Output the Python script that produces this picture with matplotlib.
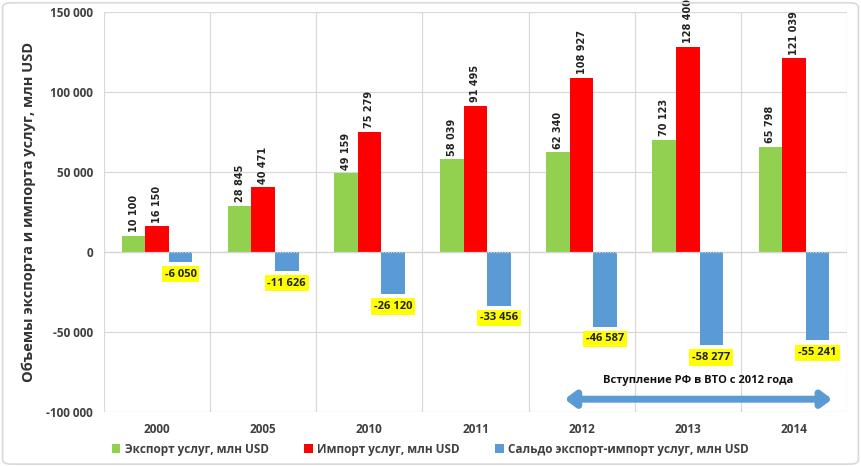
import matplotlib
matplotlib.use("Agg")
import matplotlib.pyplot as plt
from matplotlib.patches import FancyBboxPatch
import numpy as np

years = ["2000", "2005", "2010", "2011", "2012", "2013", "2014"]
export_vals = [10100, 28845, 49159, 58039, 62340, 70123, 65798]
import_vals = [16150, 40471, 75279, 91495, 108927, 128400, 121039]
saldo_vals = [-6050, -11626, -26120, -33456, -46587, -58277, -55241]
yticks = [-100000, -50000, 0, 50000, 100000, 150000]

def fmt(v):
    s = f"{abs(v):,}".replace(",", " ")
    return ("-" if v < 0 else "") + s

plt.rcParams['font.family'] = ['Open Sans', 'DejaVu Sans']

fig = plt.figure(figsize=(8.61, 4.66), dpi=100)
ax = fig.add_axes([104/861, 1-412/466, (847-104)/861, 400/466])

x = np.arange(len(years))
w = 0.222
c_exp, c_imp, c_sal = "#92D050", "#FF0000", "#5B9BD5"
b1 = ax.bar(x - w, export_vals, w, color=c_exp, label="Экспорт услуг, млн USD", zorder=3)
b2 = ax.bar(x, import_vals, w, color=c_imp, label="Импорт услуг, млн USD", zorder=3)
b3 = ax.bar(x + w, saldo_vals, w, color=c_sal, label="Сальдо экспорт-импорт услуг, млн USD", zorder=3)

for xs, vals in ((x - w, export_vals), (x, import_vals)):
    for xi, v in zip(xs, vals):
        ax.annotate(fmt(v), (xi, v), xytext=(0, 2.5), textcoords="offset points",
                    rotation=90, ha="center", va="bottom", fontsize=7, fontweight="bold",
                    family="DejaVu Sans", color="#222222")
for xi, v in zip(x + w, saldo_vals):
    ax.annotate(fmt(v), (xi, v), xytext=(0, -5), textcoords="offset points",
                ha="center", va="top", fontsize=8, fontweight="bold", color="#222222",
                bbox=dict(boxstyle="square,pad=0.25", fc="#FFFF00", ec="none"), zorder=5)

ax.set_xlim(-0.5, len(years) - 0.5)
ax.set_ylim(-100000, 150000)
ax.set_yticks(yticks)
ax.set_yticklabels([fmt(t) for t in yticks], fontsize=8.5, fontweight="bold", color="#404040")
ax.set_xticks(x)
ax.set_xticklabels(years, fontsize=8.5, fontweight="bold", color="#404040")
ax.tick_params(length=0, pad=8)
ax.tick_params(axis="x", pad=8)

for t in yticks:
    ax.axhline(t, color="#D9D9D9", lw=0.9, zorder=1)
for b in np.arange(-0.5, len(years) + 0.5, 1):
    ax.axvline(b, color="#D9D9D9", lw=0.9, zorder=1)
ax.axhline(0, color="#D0D0D0", lw=1.0, ls=(0, (1, 1)), zorder=4)
for s in ax.spines.values():
    s.set_visible(False)

ax.set_ylabel("Объемы экспорта и импорта услуг, млн USD", fontsize=10.5, fontweight="bold",
              color="#333333")
ax.yaxis.set_label_coords(-0.092, 0.5)

# WTO arrow
ax.annotate("", xy=(6.36, -92000), xytext=(3.84, -92000),
            arrowprops=dict(arrowstyle="<|-|>,head_length=0.6,head_width=0.45",
                            color="#5B9BD5", lw=5, shrinkA=0, shrinkB=0), zorder=5)
ax.text(5.1, -80500, "Вступление РФ в ВТО с 2012 года", ha="center", va="center",
        fontsize=8, fontweight="bold", color="#111111", zorder=6)

leg = fig.legend(handles=[b1, b2, b3], loc="center", bbox_to_anchor=(0.5, 1 - 449/466),
                 ncol=3, frameon=False, prop=dict(weight="bold", size=8.5),
                 handlelength=0.7, handleheight=0.7, handletextpad=0.4, columnspacing=3.0)
for t in leg.get_texts():
    t.set_color("#404040")

fig.patches.append(FancyBboxPatch((0.003, 0.004), 0.994, 0.99, boxstyle="round,pad=0,rounding_size=0.01",
                                  transform=fig.transFigure, fc="none", ec="#D9D9D9", lw=1.2))

fig.savefig("out.png", dpi=100)
